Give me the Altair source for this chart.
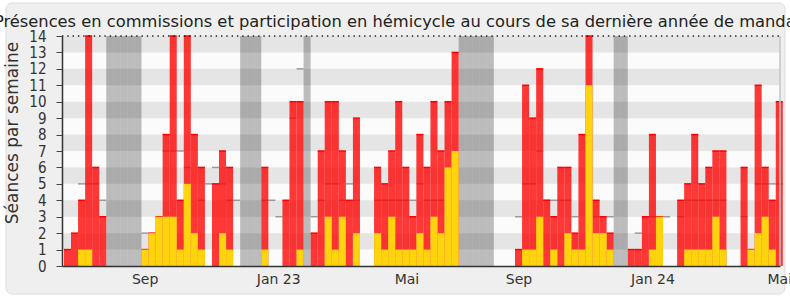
import altair as alt
import pandas as pd

# ---- data (weekly) ----
COMMISSIONS = [1, 2, 4, 14, 6, 3, 0, 0, 0, 0, 0, 1, 2, 3, 8, 14, 4,
               14, 8, 6, 0, 5, 7, 6, 0, 0, 0, 0, 6, 0, 0, 4, 10, 10, 0,
               2, 7, 10, 10, 7, 4, 9, 0, 0, 6, 5, 7, 10, 6, 3, 8,
               6, 10, 7, 10, 13, 0, 0, 0, 0, 0, 0, 0, 0, 1, 11, 9, 12,
               4, 3, 6, 6, 2, 8, 14, 4, 3, 2, 0, 0, 1, 1, 3, 8, 3, 0, 0,
               4, 5, 8, 5, 6, 7, 7, 0, 0, 6, 1, 11, 6, 4, 10]
HEMICYCLE = [0, 0, 1, 1, 0, 0, 0, 0, 0, 0, 0, 1, 2, 3, 3, 3, 1,
             5, 2, 1, 0, 0, 2, 1, 0, 0, 0, 0, 1, 0, 0, 0, 0, 1, 0,
             0, 0, 3, 1, 3, 0, 2, 0, 0, 2, 1, 3, 1, 1, 1, 2,
             1, 3, 2, 6, 7, 0, 0, 0, 0, 0, 0, 0, 0, 0, 1, 1, 3,
             0, 1, 0, 2, 1, 1, 11, 2, 2, 1, 0, 0, 0, 0, 0, 1, 3, 0, 0,
             0, 1, 1, 1, 1, 3, 1, 0, 0, 0, 1, 2, 3, 1, 0]
MEDIANE = [None, None, 5, 5, 5, 4, None, None, None, None, None, 2, None, None, 7, 7, 7,
           6, None, 4, 5, 6, 5, 4, 4, None, None, None, 4, 4, 3, None, 9, 12, None,
           3, 4, 5, 5, 4, 5, 4, None, None, 4, 4, 4, 4, 4, 4, 5,
           4, 4, 4, 5, None, None, None, None, None, None, None, None, None, 3, 5, 5, 7,
           4, 4, 4, 4, 3, None, None, 3, 3, 3, None, None, None, 2, 3, 3, 3, 3, None,
           3, 4, 4, 4, 4, 4, 4, None, None, 3, None, 5, 5, 5, 5]
VACANCES = [6, 7, 8, 9, 10, 25, 26, 27, 34, 56, 57, 58, 59, 60, 78, 79]
TICK_POS = [11.45, 30.4, 48.6, 64.5, 83.5, 101.5]
TICK_LABELS = ["Sep", "Jan 23", "Mai", "Sep", "Jan 24", "Mai"]
Y_TICKS = list(range(15))
STRIPES = [1, 3, 5, 7, 9, 11, 13]
X_MIN, X_MAX = -0.28, 101.6
Y_MAX = 14
TITLE = "Présences en commissions et participation en hémicycle au cours de sa dernière année de mandat"

weeks = list(range(len(COMMISSIONS)))
df = pd.DataFrame({"week": weeks, "red": COMMISSIONS, "yellow": HEMICYCLE, "med": MEDIANE})
df["x1"] = df["week"] + 1
df["zero"] = 0
red_df = df[df["red"] > 0]
yel_df = df[df["yellow"] > 0]
med_df = df[df["med"].notna()]
vac_df = pd.DataFrame({"week": VACANCES})
vac_df["x1"] = vac_df["week"] + 1
vac_df["y0"] = 0
vac_df["y1"] = Y_MAX
stripe_df = pd.DataFrame({"y0": STRIPES})
stripe_df["y1"] = stripe_df["y0"] + 1
stripe_df["xa"] = X_MIN
stripe_df["xb"] = X_MAX
frame_df = pd.DataFrame({"xa": [X_MIN], "xb": [X_MAX], "y0": [0], "y1": [Y_MAX]})

FONT = "DejaVu Sans"
xscale = alt.Scale(domain=[X_MIN, X_MAX], nice=False, zero=False)
yscale = alt.Scale(domain=[0, Y_MAX], nice=False)

label_expr = "''"
for p, l in reversed(list(zip(TICK_POS, TICK_LABELS))):
    label_expr = f"datum.value == {p} ? '{l}' : ({label_expr})"

x_axis = alt.Axis(values=TICK_POS, labelExpr=label_expr, title=None, grid=False,
                  ticks=False, labelFontSize=14, labelFont=FONT, labelColor="#333",
                  labelPadding=6, domainColor="#333", domainWidth=1.5,
                  labelOverlap=False, labelBound=False, labelFlush=False, zindex=1)
y_axis = alt.Axis(values=Y_TICKS, title="Séances par semaine", grid=False,
                  tickSize=6, tickColor="#444", domainColor="#333", domainWidth=1.5,
                  labelFontSize=15, labelFont="DejaVu Sans Condensed, DejaVu Sans",
                  labelColor="#333", labelPadding=10, labelOverlap=False, labelBound=False,
                  titleFont=FONT, titleFontSize=17, titleFontWeight="normal",
                  titleColor="#333", titleX=-44.7, titleY=96.5, titleBaseline="alphabetic",
                  titleAlign="center", zindex=1)


def X(field):
    return alt.X(field, scale=xscale, axis=x_axis)


def Y(field):
    return alt.Y(field, scale=yscale, axis=y_axis)


base_one = alt.Chart(pd.DataFrame({"t": [TITLE]}))

panel = base_one.mark_rect(fill="#efefef", stroke="#dcdcdc", strokeWidth=1, cornerRadius=6).encode(
    x=alt.value(-56), x2=alt.value(723), y=alt.value(-33), y2=alt.value(258))

title = base_one.mark_text(font=FONT, fontSize=16.3, color="#222", align="center",
                           baseline="alphabetic").encode(
    text="t:N", x=alt.value(336), y=alt.value(-9.3))

plot_bg = alt.Chart(frame_df).mark_rect(fill="#fbfbfb").encode(
    x=X("xa:Q"), x2="xb:Q", y=Y("y0:Q"), y2="y1:Q")

stripes = alt.Chart(stripe_df).mark_rect(fill="#e5e5e5").encode(
    x=X("xa:Q"), x2="xb:Q", y=Y("y0:Q"), y2="y1:Q")

vac = alt.Chart(vac_df).mark_rect(fill="#000000", opacity=0.25).encode(
    x=X("week:Q"), x2="x1:Q", y=Y("y0:Q"), y2="y1:Q")

med = alt.Chart(med_df).mark_rule(color="#9a9a9a", strokeWidth=1.5).encode(
    x=X("week:Q"), x2="x1:Q", y=Y("med:Q"))

red = alt.Chart(red_df).mark_rect(fill="#ff0000", opacity=0.78).encode(
    x=X("week:Q"), x2="x1:Q", y=Y("red:Q"), y2="zero:Q")

red_top = alt.Chart(red_df).mark_rule(color="#ff0000", strokeWidth=1.5).encode(
    x=X("week:Q"), x2="x1:Q", y=Y("red:Q"))

yel = alt.Chart(yel_df).mark_rect(fill="#ffd30d").encode(
    x=X("week:Q"), x2="x1:Q", y=Y("yellow:Q"), y2="zero:Q")

top_dots = alt.Chart(frame_df).mark_rule(color="#222", strokeWidth=1.4, strokeDash=[1.4, 3.9]).encode(
    x=X("xa:Q"), x2="xb:Q", y=Y("y1:Q"))

right_edge = alt.Chart(frame_df).mark_rule(color="#c4c4c4", strokeWidth=1.5).encode(
    x=X("xb:Q"), y=Y("y0:Q"), y2="y1:Q")

chart = alt.layer(panel, title, plot_bg, stripes, vac, med, red, red_top, yel, top_dots,
                  right_edge).properties(
    width=718, height=230,
    autosize=alt.AutoSizeParams(type="none"),
    padding={"left": 62, "top": 36, "right": 10, "bottom": 34},
    background="#ffffff",
).configure_view(stroke=None)

chart.save("out.html", embed_options={"renderer": "svg", "actions": False})
